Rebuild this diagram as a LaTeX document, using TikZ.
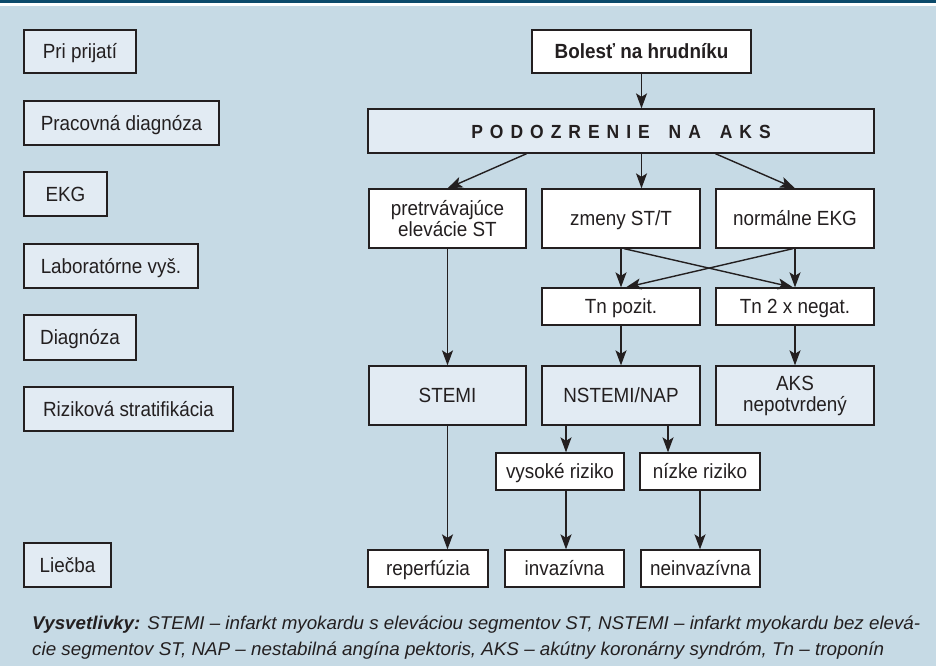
\documentclass[tikz,border=0pt]{standalone}
\usepackage{fontspec}
\usepackage{graphicx}
\setmainfont[FakeStretch=0.92]{Liberation Sans}
\usetikzlibrary{arrows.meta}
\definecolor{bg}{HTML}{C6DAE5}
\definecolor{lf}{HTML}{E2EBF3}
\definecolor{band}{HTML}{0B4A6B}
\definecolor{ln}{HTML}{231F20}
\newcommand\bxfont{\fontsize{20.5}{21}\selectfont}
\newcommand\fnfont{\fontsize{18.5}{26}\selectfont\itshape}
\newcommand\lsp{\kern7pt}
\begin{document}
\begin{tikzpicture}[x=1pt,y=-1pt,
  bx/.style 2 args={draw=ln, line width=1.3pt, inner sep=0pt, minimum width=#1pt, minimum height=#2pt, align=center, font=\bxfont, text=ln},
  one/.style={text height=14.6pt, text depth=0pt},
  wb/.style={fill=white}, lb/.style={fill=lf},
  arr/.style={draw=ln, line width=1.4pt, -{Stealth[length=15pt,width=11pt,inset=3.5pt]}}]
\useasboundingbox (0,0) rectangle (936,666);
\fill[bg] (0,0) rectangle (936,666);
\fill[band] (0,0) rectangle (936,3.2);
\fill[white] (0,3.2) rectangle (936,5.8);
% left column
\node[bx={112}{43}, lb, one] (l1) at (80,51.5) {Pri prijatí};
\node[bx={195}{44}, lb, one] (l2) at (121.5,123) {Pracovná diagnóza};
\node[bx={83}{44}, lb, one] (l3) at (65.5,194) {EKG};
\node[bx={174}{44}, lb, one] (l4) at (111,266) {Laboratórne vyš.};
\node[bx={112}{45}, lb, one] (l5) at (80,337.5) {Diagnóza};
\node[bx={209}{44}, lb, one] (l6) at (128.5,409) {Riziková stratifikácia};
\node[bx={87}{44}, lb, one] (l7) at (67.5,565) {Liečba};
% flow
\node[bx={219}{43}, wb, one, font=\bxfont\bfseries] (bol) at (641.5,51.5) {Bolesť na hrudníku};
\node[bx={506}{44}, lb, one, font=\fontsize{19}{20}\selectfont\bfseries] (pod) at (621,131) {P\lsp O\lsp D\lsp O\lsp Z\lsp R\lsp E\lsp N\lsp I\lsp E\lsp\ \lsp N\lsp A\lsp\ \lsp A\lsp K\lsp S};
\node[bx={157}{59}, wb] (pre) at (447.5,218.5) {pretrvávajúce\\elevácie ST};
\node[bx={158}{59}, wb, one] (zme) at (621,218.5) {zmeny ST/T};
\node[bx={158}{59}, wb, one] (nor) at (795,218.5) {normálne EKG};
\node[bx={158}{37}, wb, one] (tnp) at (621,306.5) {Tn pozit.};
\node[bx={158}{37}, wb, one] (tnn) at (795,306.5) {Tn 2 x negat.};
\node[bx={157}{59}, lb, one] (stemi) at (447.5,395.5) {STEMI};
\node[bx={158}{59}, lb, one] (nst) at (621,395.5) {NSTEMI/NAP};
\node[bx={158}{59}, lb] (aks) at (795,395.5) {AKS\\nepotvrdený};
\node[bx={128}{37}, wb, one] (vys) at (560,471.5) {vysoké riziko};
\node[bx={120}{37}, wb, one] (niz) at (700,471.5) {nízke riziko};
\node[bx={120}{37}, wb, one] (rep) at (428,568.5) {reperfúzia};
\node[bx={119}{37}, wb, one] (inv) at (564.5,568.5) {invazívna};
\node[bx={119}{37}, wb, one] (nei) at (700.5,568.5) {neinvazívna};
% arrows
\draw[arr] (bol.south) -- (bol.south |- pod.north);
\draw[arr] (pod.south -| pre.east) -- (pre.north);
\draw[arr] (pod.south -| bol.south) -- (zme.north -| bol.south);
\draw[arr] (pod.south -| nor.west) -- (nor.north);
\draw[arr] (zme.south) -- (tnp.north);
\draw[arr] ([xshift=3pt]zme.south) -- ([xshift=-2pt]tnn.north);
\draw[arr] ([xshift=-2pt]nor.south) -- ([xshift=5pt]tnp.north);
\draw[arr] (nor.south) -- (tnn.north);
\draw[arr] (pre.south) -- (stemi.north);
\draw[arr] (tnp.south) -- (nst.north);
\draw[arr] (tnn.south) -- (aks.north);
\draw[arr] (stemi.south) -- (stemi.south |- rep.north);
\draw[arr] ([xshift=6pt]vys.north |- nst.south) -- ([xshift=6pt]vys.north);
\draw[arr] ([xshift=-32pt]niz.north |- nst.south) -- ([xshift=-32pt]niz.north);
\draw[arr] ([xshift=6pt]vys.south) -- ([xshift=6pt]vys.south |- inv.north);
\draw[arr] (niz.south) -- (niz.south |- nei.north);
% footnote
\node[anchor=base west, inner sep=0pt, font=\fnfont, text=ln] (fn1) at (32,629) {\resizebox{888pt}{\height}{\textbf{Vysvetlivky:} STEMI – infarkt myokardu s eleváciou segmentov ST, NSTEMI – infarkt myokardu bez elevá-}};
\node[anchor=base west, inner sep=0pt, font=\fnfont, text=ln] (fn2) at (32,655) {\resizebox{852pt}{\height}{cie segmentov ST, NAP – nestabilná angína pektoris, AKS – akútny koronárny syndróm, Tn – troponín}};
\end{tikzpicture}
\end{document}
